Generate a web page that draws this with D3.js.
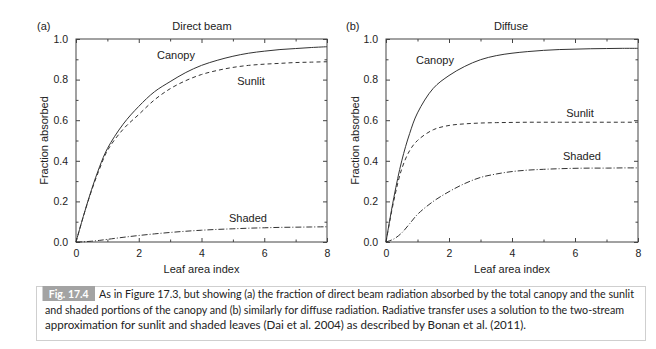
<!DOCTYPE html>
<html>
<head>
<meta charset="utf-8">
<script src="https://cdn.jsdelivr.net/npm/d3@7/dist/d3.min.js"></script>
<style>
  html, body { margin: 0; padding: 0; background: #fff; }
  svg { display: block; }
  .tick text { font-family: "Liberation Sans", Arial, sans-serif; font-size: 10.5px; fill: #222; }
  .tick line { stroke: #444; }
  .domain { display: none; }
</style>
</head>
<body>
<svg id="fig" width="656" height="349"></svg>
<script>
// Leaf area index grid shared by both panels
const lai = [0, 0.25, 0.5, 0.75, 1, 1.5, 2, 2.5, 3, 3.5, 4, 4.5, 5, 5.5, 6, 6.5, 7, 7.5, 8];

// (a) Direct beam: fraction absorbed
const canopyDirect = [0, 0.135, 0.26, 0.37, 0.46, 0.58, 0.668, 0.74, 0.79, 0.835, 0.87, 0.895, 0.915, 0.93, 0.94, 0.948, 0.953, 0.958, 0.962];
const sunlitDirect = [0, 0.134, 0.255, 0.36, 0.45, 0.555, 0.628, 0.70, 0.755, 0.795, 0.825, 0.845, 0.86, 0.87, 0.876, 0.88, 0.884, 0.886, 0.888];
const shadedDirect = [0, 0.001, 0.004, 0.008, 0.013, 0.023, 0.032, 0.04, 0.047, 0.053, 0.058, 0.062, 0.065, 0.068, 0.07, 0.072, 0.073, 0.074, 0.075];

// (b) Diffuse: fraction absorbed
const canopyDiffuse = [0, 0.22, 0.40, 0.534, 0.636, 0.757, 0.82, 0.865, 0.898, 0.918, 0.93, 0.938, 0.944, 0.948, 0.95, 0.952, 0.953, 0.954, 0.954];
const sunlitDiffuse = [0, 0.205, 0.36, 0.45, 0.50, 0.553, 0.574, 0.582, 0.586, 0.588, 0.589, 0.59, 0.59, 0.59, 0.59, 0.59, 0.59, 0.59, 0.59];
const shadedDiffuse = [0, 0.015, 0.045, 0.09, 0.136, 0.2, 0.248, 0.288, 0.318, 0.335, 0.347, 0.354, 0.358, 0.361, 0.363, 0.364, 0.364, 0.365, 0.365];

// Axis ticks
const xMajor = [0, 2, 4, 6, 8];
const xMinor = [1, 3, 5, 7];
const yMajor = [0, 0.2, 0.4, 0.6, 0.8, 1.0];
const yMinor = [0.1, 0.3, 0.5, 0.7, 0.9];

const panelLetters = ["(a)", "(b)"];
const panelTitles = ["Direct beam", "Diffuse"];
const seriesNames = ["Canopy", "Sunlit", "Shaded"];
const xLabel = "Leaf area index";
const yLabel = "Fraction absorbed";

const captionTag = "Fig. 17.4";
const captionLines = [
  "As in Figure 17.3, but showing (a) the fraction of direct beam radiation absorbed by the total canopy and the sunlit",
  "and shaded portions of the canopy and (b) similarly for diffuse radiation. Radiative transfer uses a solution to the two-stream",
  "approximation for sunlit and shaded leaves (Dai et al. 2004) as described by Bonan et al. (2011)."
];

const svg = d3.select("#fig");
const font = '"Liberation Sans", Arial, sans-serif';

const panels = [
  { left: 76, right: 327, series: [canopyDirect, sunlitDirect, shadedDirect],
    labels: [[176, 59], [251, 85], [248, 222]], letterX: 37, titleX: 202, yLabelX: 44 },
  { left: 386, right: 638, series: [canopyDiffuse, sunlitDiffuse, shadedDiffuse],
    labels: [[435, 64], [580, 117], [582, 160]], letterX: 346, titleX: 511, yLabelX: 355 }
];
const plotTop = 39, plotBottom = 242;
const dashes = [null, "4,3", "6,2,1,2"];

panels.forEach((p, i) => {
  const x = d3.scaleLinear().domain([0, 8]).range([p.left, p.right]);
  const y = d3.scaleLinear().domain([0, 1]).range([plotBottom, plotTop]);
  const g = svg.append("g");

  // Inward ticks on all four sides
  g.append("g").attr("transform", `translate(0,${plotBottom})`)
    .call(d3.axisBottom(x).tickValues(xMajor).tickSize(-4).tickPadding(8).tickFormat(d3.format("d")));
  g.append("g").attr("transform", `translate(0,${plotBottom})`)
    .call(d3.axisBottom(x).tickValues(xMinor).tickSize(-2.5).tickFormat(""));
  g.append("g").attr("transform", `translate(0,${plotTop})`)
    .call(d3.axisTop(x).tickValues(xMajor).tickSize(-4).tickFormat(""));
  g.append("g").attr("transform", `translate(0,${plotTop})`)
    .call(d3.axisTop(x).tickValues(xMinor).tickSize(-2.5).tickFormat(""));
  g.append("g").attr("transform", `translate(${p.left},0)`)
    .call(d3.axisLeft(y).tickValues(yMajor).tickSize(-4).tickPadding(8).tickFormat(d3.format(".1f")));
  g.append("g").attr("transform", `translate(${p.left},0)`)
    .call(d3.axisLeft(y).tickValues(yMinor).tickSize(-2.5).tickFormat(""));
  g.append("g").attr("transform", `translate(${p.right},0)`)
    .call(d3.axisRight(y).tickValues(yMajor).tickSize(-4).tickFormat(""));
  g.append("g").attr("transform", `translate(${p.right},0)`)
    .call(d3.axisRight(y).tickValues(yMinor).tickSize(-2.5).tickFormat(""));

  // Frame
  g.append("rect").attr("x", p.left).attr("y", plotTop)
    .attr("width", p.right - p.left).attr("height", plotBottom - plotTop)
    .attr("fill", "none").attr("stroke", "#444").attr("stroke-width", 1);

  // Curves
  const line = d3.line().x((d, k) => x(lai[k])).y(d => y(d)).curve(d3.curveCatmullRom.alpha(0.5));
  p.series.forEach((vals, s) => {
    g.append("path").datum(vals).attr("d", line)
      .attr("fill", "none").attr("stroke", "#333").attr("stroke-width", 1)
      .attr("stroke-dasharray", dashes[s]);
    g.append("text").attr("x", p.labels[s][0]).attr("y", p.labels[s][1])
      .attr("text-anchor", "middle").attr("font-family", font).attr("font-size", 11)
      .attr("fill", "#222").text(seriesNames[s]);
  });

  // Titles and axis labels
  g.append("text").attr("x", p.letterX).attr("y", 30).attr("font-family", font)
    .attr("font-size", 11).attr("fill", "#222").text(panelLetters[i]);
  g.append("text").attr("x", p.titleX).attr("y", 30).attr("text-anchor", "middle")
    .attr("font-family", font).attr("font-size", 11).attr("fill", "#222").text(panelTitles[i]);
  g.append("text").attr("x", (p.left + p.right) / 2).attr("y", 273).attr("text-anchor", "middle")
    .attr("font-family", font).attr("font-size", 11).attr("fill", "#222").text(xLabel);
  g.append("text").attr("transform", `translate(${p.yLabelX + 4},${(plotTop + plotBottom) / 2}) rotate(-90)`)
    .attr("text-anchor", "middle").attr("font-family", font).attr("font-size", 11)
    .attr("fill", "#222").text(yLabel);
});

// Caption box
const cap = svg.append("g");
cap.append("rect").attr("x", 36.5).attr("y", 286.5).attr("width", 609).attr("height", 54)
  .attr("fill", "#fff").attr("stroke", "#cfcfcf").attr("stroke-width", 1);
cap.append("rect").attr("x", 42.5).attr("y", 286).attr("width", 52.5).attr("height", 15)
  .attr("fill", "#a3a3a3");
cap.append("text").attr("x", 68.7).attr("y", 298).attr("text-anchor", "middle")
  .attr("font-family", "Lato, sans-serif").attr("font-weight", "bold").attr("font-size", 10.5)
  .attr("fill", "#fff").text(captionTag);
const capX = [99, 45, 45];
const capEnd = [634, 624, 526];
captionLines.forEach((t, k) => {
  cap.append("text").attr("x", capX[k]).attr("y", 298 + k * 15.5)
    .attr("font-family", "Lato, sans-serif").attr("font-size", 10.5).attr("fill", "#222")
    .attr("textLength", capEnd[k] - capX[k]).attr("lengthAdjust", "spacingAndGlyphs")
    .text(t);
});
</script>
</body>
</html>
